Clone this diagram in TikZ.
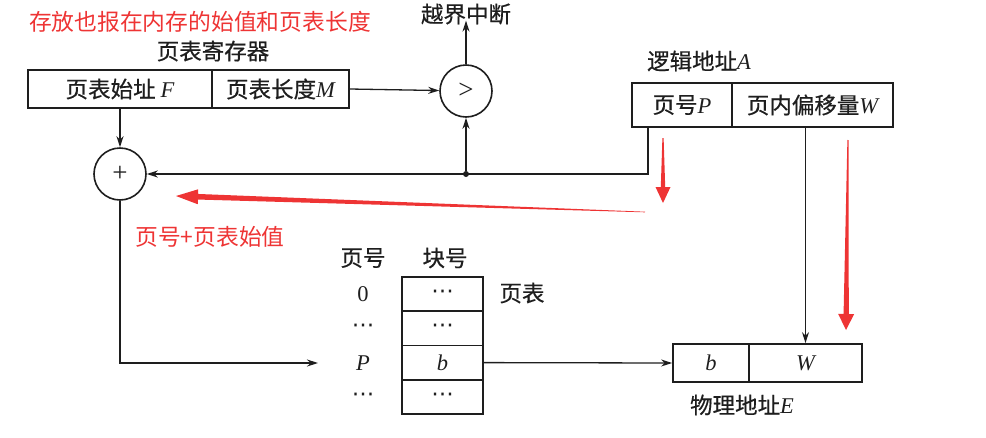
\documentclass[tikz,border=0pt]{standalone}
\usepackage{fontspec}
\setmainfont{Liberation Serif}
\newfontfamily\cjk{Noto Sans CJK SC}
\newfontfamily\cjkb{Noto Sans CJK SC}[FakeBold=0.5]
\newfontfamily\djv{DejaVu Sans}
\usetikzlibrary{arrows.meta,calc}
\definecolor{myred}{RGB}{238,52,52}
\definecolor{ink}{RGB}{30,30,30}
\newcommand\mvar[1]{{\rmfamily\itshape #1}}
\newcommand\mdots{{\djv ⋯}}
\newcommand\redarrow[6]{% tail, tip, tail half width, shaft half width, head length, head half width
  \coordinate (hb) at ($(#2)!#5!(#1)$);
  \fill[myred] ($(#1)!#3!90:(#2)$) -- ($(hb)!#4!90:(#2)$) -- ($(hb)!#6!90:(#2)$) -- (#2)
    -- ($(hb)!#6!-90:(#2)$) -- ($(hb)!#4!-90:(#2)$) -- ($(#1)!#3!-90:(#2)$) -- cycle;}
\begin{document}
\begin{tikzpicture}[x=1pt,y=-1pt,
  txt/.style={font=\cjkb\fontsize{22.5}{24}\selectfont, text=ink, inner sep=0pt},
  redtxt/.style={font=\cjk\fontsize{22.8}{26}\selectfont, text=myred, inner sep=0pt},
  field/.style={draw=ink, line width=1.8pt, inner sep=0pt, font=\cjkb\fontsize{22.5}{24}\selectfont, text=ink},
  ring/.style={draw=ink, circle, line width=1.6pt, minimum size=52pt, inner sep=0pt, font=\fontsize{27}{28}\selectfont, text=ink},
  conn/.style={draw=ink, line width=1.3pt, -{Stealth[length=11pt,width=7pt]}},
  ]
\useasboundingbox (0,0) rectangle (986,437);

% red annotations (text)
\node[redtxt] (note1) at (200,22) {存放也报在内存的始值和页表长度};
\node[redtxt] (note2) at (210,237) {页号+页表始值};

% page table register
\node[txt] (regname) at (213,51) {页表寄存器};
\node[field, minimum width=184pt, minimum height=38pt] (regF) at (120,89) {页表始址 \mvar{F}};
\node[field, minimum width=137pt, minimum height=38pt] (regM) at (280.5,89) {页表长度\mvar{M}};

% comparator and adder
\node[ring] (cmp) at (466,91) {>};
\node[txt] (intr) at (466,14) {越界中断};
\node[ring] (add) at (120,174) {+};

% logical address
\node[txt] (lalabel) at (699,61) {逻辑地址\mvar{A}};
\node[field, minimum width=100pt, minimum height=44pt] (laP) at (682,105) {页号\mvar{P}};
\node[field, minimum width=161pt, minimum height=44pt] (laW) at (812.5,105) {页内偏移量\mvar{W}};

% page table
\node[txt] (hPage) at (363,258) {页号};
\node[txt] (hBlock) at (445,258) {块号};
\node[txt] (ptname) at (522,293) {页表};
\node[field, minimum width=81pt, minimum height=34.25pt] (pt1) at (442.5,294.1) {\mdots};
\node[field, minimum width=81pt, minimum height=34.25pt] (pt2) at (442.5,328.4) {\mdots};
\node[field, minimum width=81pt, minimum height=34.25pt] (pt3) at (442.5,362.6) {\mvar{b}};
\node[field, minimum width=81pt, minimum height=34.25pt] (pt4) at (442.5,396.9) {\mdots};
\node[txt] (l0) at (363,294) {\rmfamily 0};
\node[txt] (l1) at (363,328) {\mdots};
\node[txt] (lP) at (363,363) {\mvar{P}};
\node[txt] (l3) at (363,397) {\mdots};

% physical address
\node[field, minimum width=76pt, minimum height=38pt] (pb) at (711,363) {\mvar{b}};
\node[field, minimum width=113pt, minimum height=38pt] (pW) at (805.5,363) {\mvar{W}};
\node[txt] (palabel) at (742,405) {物理地址\mvar{E}};

% connectors
\node[circle, fill=ink, minimum size=6pt, inner sep=0pt] (dot) at (466,174) {};
\coordinate (ptin) at (318,363);
\draw[conn] (regM.east) -- (cmp);
\draw[conn] (cmp.north) -- ([yshift=4pt]intr.south);
\draw[conn] (regF.south) -- (add.north);
\draw[conn] ([xshift=-34pt]laP.south) |- (add.east);
\draw[conn] (dot) -- (cmp.south);
\draw[conn] (add.south) |- (ptin);
\draw[conn] (pt3.east) -- (pb.west);
\draw[conn] (pW.north |- laW.south) -- (pW.north);

% red arrows
\coordinate (r1t) at (645,212); \coordinate (r1h) at (176,196);
\redarrow{r1t}{r1h}{0.3pt}{2.8pt}{22pt}{7.5pt}
\coordinate (r2t) at (663,138); \coordinate (r2h) at (663,203);
\redarrow{r2t}{r2h}{0.6pt}{2.2pt}{16pt}{7.5pt}
\coordinate (r3t) at (848,140); \coordinate (r3h) at (846,330);
\redarrow{r3t}{r3h}{0.6pt}{2.6pt}{16pt}{8pt}
\end{tikzpicture}
\end{document}
